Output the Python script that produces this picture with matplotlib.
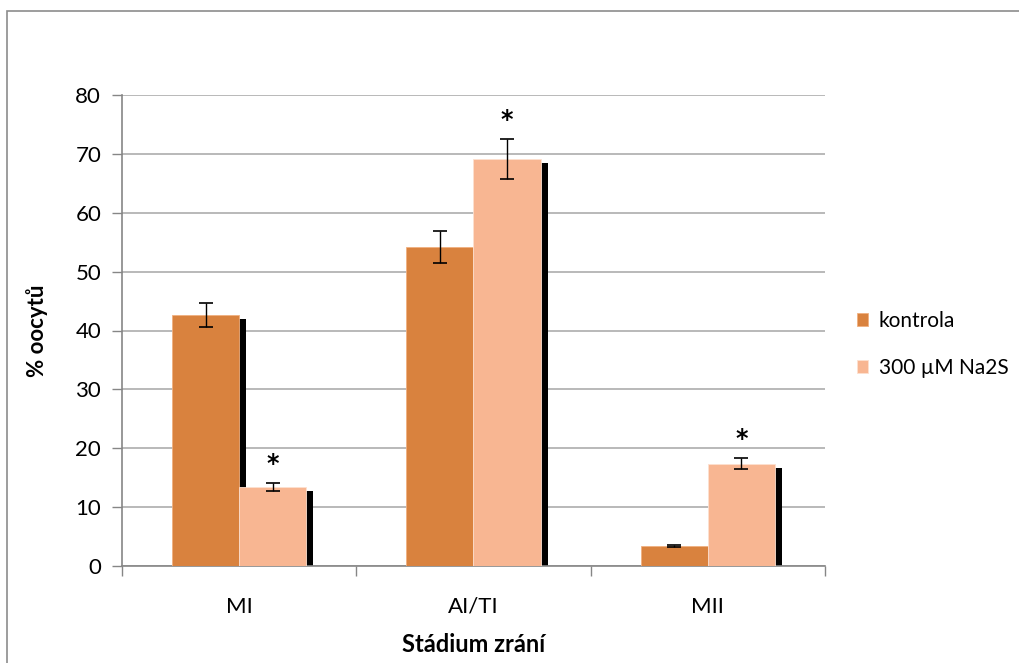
import numpy as np
import matplotlib
matplotlib.use("Agg")
import matplotlib.pyplot as plt
from matplotlib.patches import Rectangle

plt.rcParams['font.family'] = ['Lato', 'DejaVu Sans']

# data
stages = ['MI', 'AI/TI', 'MII']
kontrola = [42.6, 54.2, 3.4]
kontrola_err = [2.0, 2.7, 0.2]
na2s = [13.4, 69.1, 17.4]
na2s_err = [0.7, 3.4, 0.9]
significant = [True, True, True]   # asterisk above Na2S bars

c_kon = '#D9823E'
c_na = '#F8B692'
grid_c = '#B3B3B3'
axis_c = '#868686'

fig = plt.figure(figsize=(10.2, 6.63), dpi=100)
ax = fig.add_axes([122 / 1020, 97 / 663, 703 / 1020, 471 / 663])

x = np.arange(len(stages))
w = 0.286
xk = x - w / 2
xn = x + w / 2

# drop shadows (offset to the right, a bit shorter)
dx, dy = 0.03, 0.7
ax.bar(xk + dx, np.array(kontrola) - dy, w, color='black', zorder=2)
ax.bar(xn + dx, np.array(na2s) - dy, w, color='black', zorder=2)

ax.bar(xk, kontrola, w, color=c_kon, edgecolor='#F0B080', linewidth=0.6,
       zorder=3, label='kontrola')
ax.bar(xn, na2s, w, color=c_na, edgecolor='#FDE0D0', linewidth=0.6,
       zorder=3, label='300 µM Na2S')

ax.errorbar(xk, kontrola, yerr=kontrola_err, fmt='none', ecolor='black',
            elinewidth=1, capsize=5, capthick=1.2, zorder=4)
ax.errorbar(xn, na2s, yerr=na2s_err, fmt='none', ecolor='black',
            elinewidth=1, capsize=5, capthick=1.2, zorder=4)

for xi, v, e, s in zip(xn, na2s, na2s_err, significant):
    if s:
        ax.annotate('*', (xi, v + e), xytext=(0, 5), textcoords='offset points',
                    ha='center', va='bottom', fontsize=17, fontweight='bold',
                    zorder=5, family='DejaVu Sans')

ax.set_xlim(-0.5, 2.5)
ax.set_ylim(0, 80)
ax.set_yticks(np.arange(0, 81, 10))
ax.yaxis.grid(True, color=grid_c, linewidth=1.3)
ax.set_axisbelow(True)

ax.set_xticks(x)
ax.set_xticklabels(stages, fontsize=16)
ax.set_xticks([-0.5, 0.5, 1.5, 2.5], minor=True)
ax.tick_params(axis='x', which='major', length=0, pad=22)
ax.tick_params(axis='x', which='minor', length=7, color=axis_c, width=1)
ax.tick_params(axis='y', length=7, color=axis_c, width=1, labelsize=16, pad=8)

for side in ['top', 'right']:
    ax.spines[side].set_visible(False)
for side in ['left', 'bottom']:
    ax.spines[side].set_color(axis_c)
    ax.spines[side].set_linewidth(1.2)

ax.set_ylabel('% oocytů', fontsize=16, fontweight='bold', labelpad=20)
ax.set_xlabel('Stádium zrání', fontsize=17, fontweight='bold', labelpad=12)

fig.legend(loc='upper left', bbox_to_anchor=(838 / 1020, 1 - 292 / 663),
           frameon=False, fontsize=15, handlelength=0.55, handleheight=0.55,
           handletextpad=0.5, labelspacing=1.3)

# chart area border
fig.patches.append(Rectangle((7 / 1020, -0.1), 1.2, 1 - 11 / 663 + 0.1,
                             transform=fig.transFigure, fill=False,
                             edgecolor='#8C8C8C', linewidth=1.2))

fig.savefig('out.png', dpi=100)
